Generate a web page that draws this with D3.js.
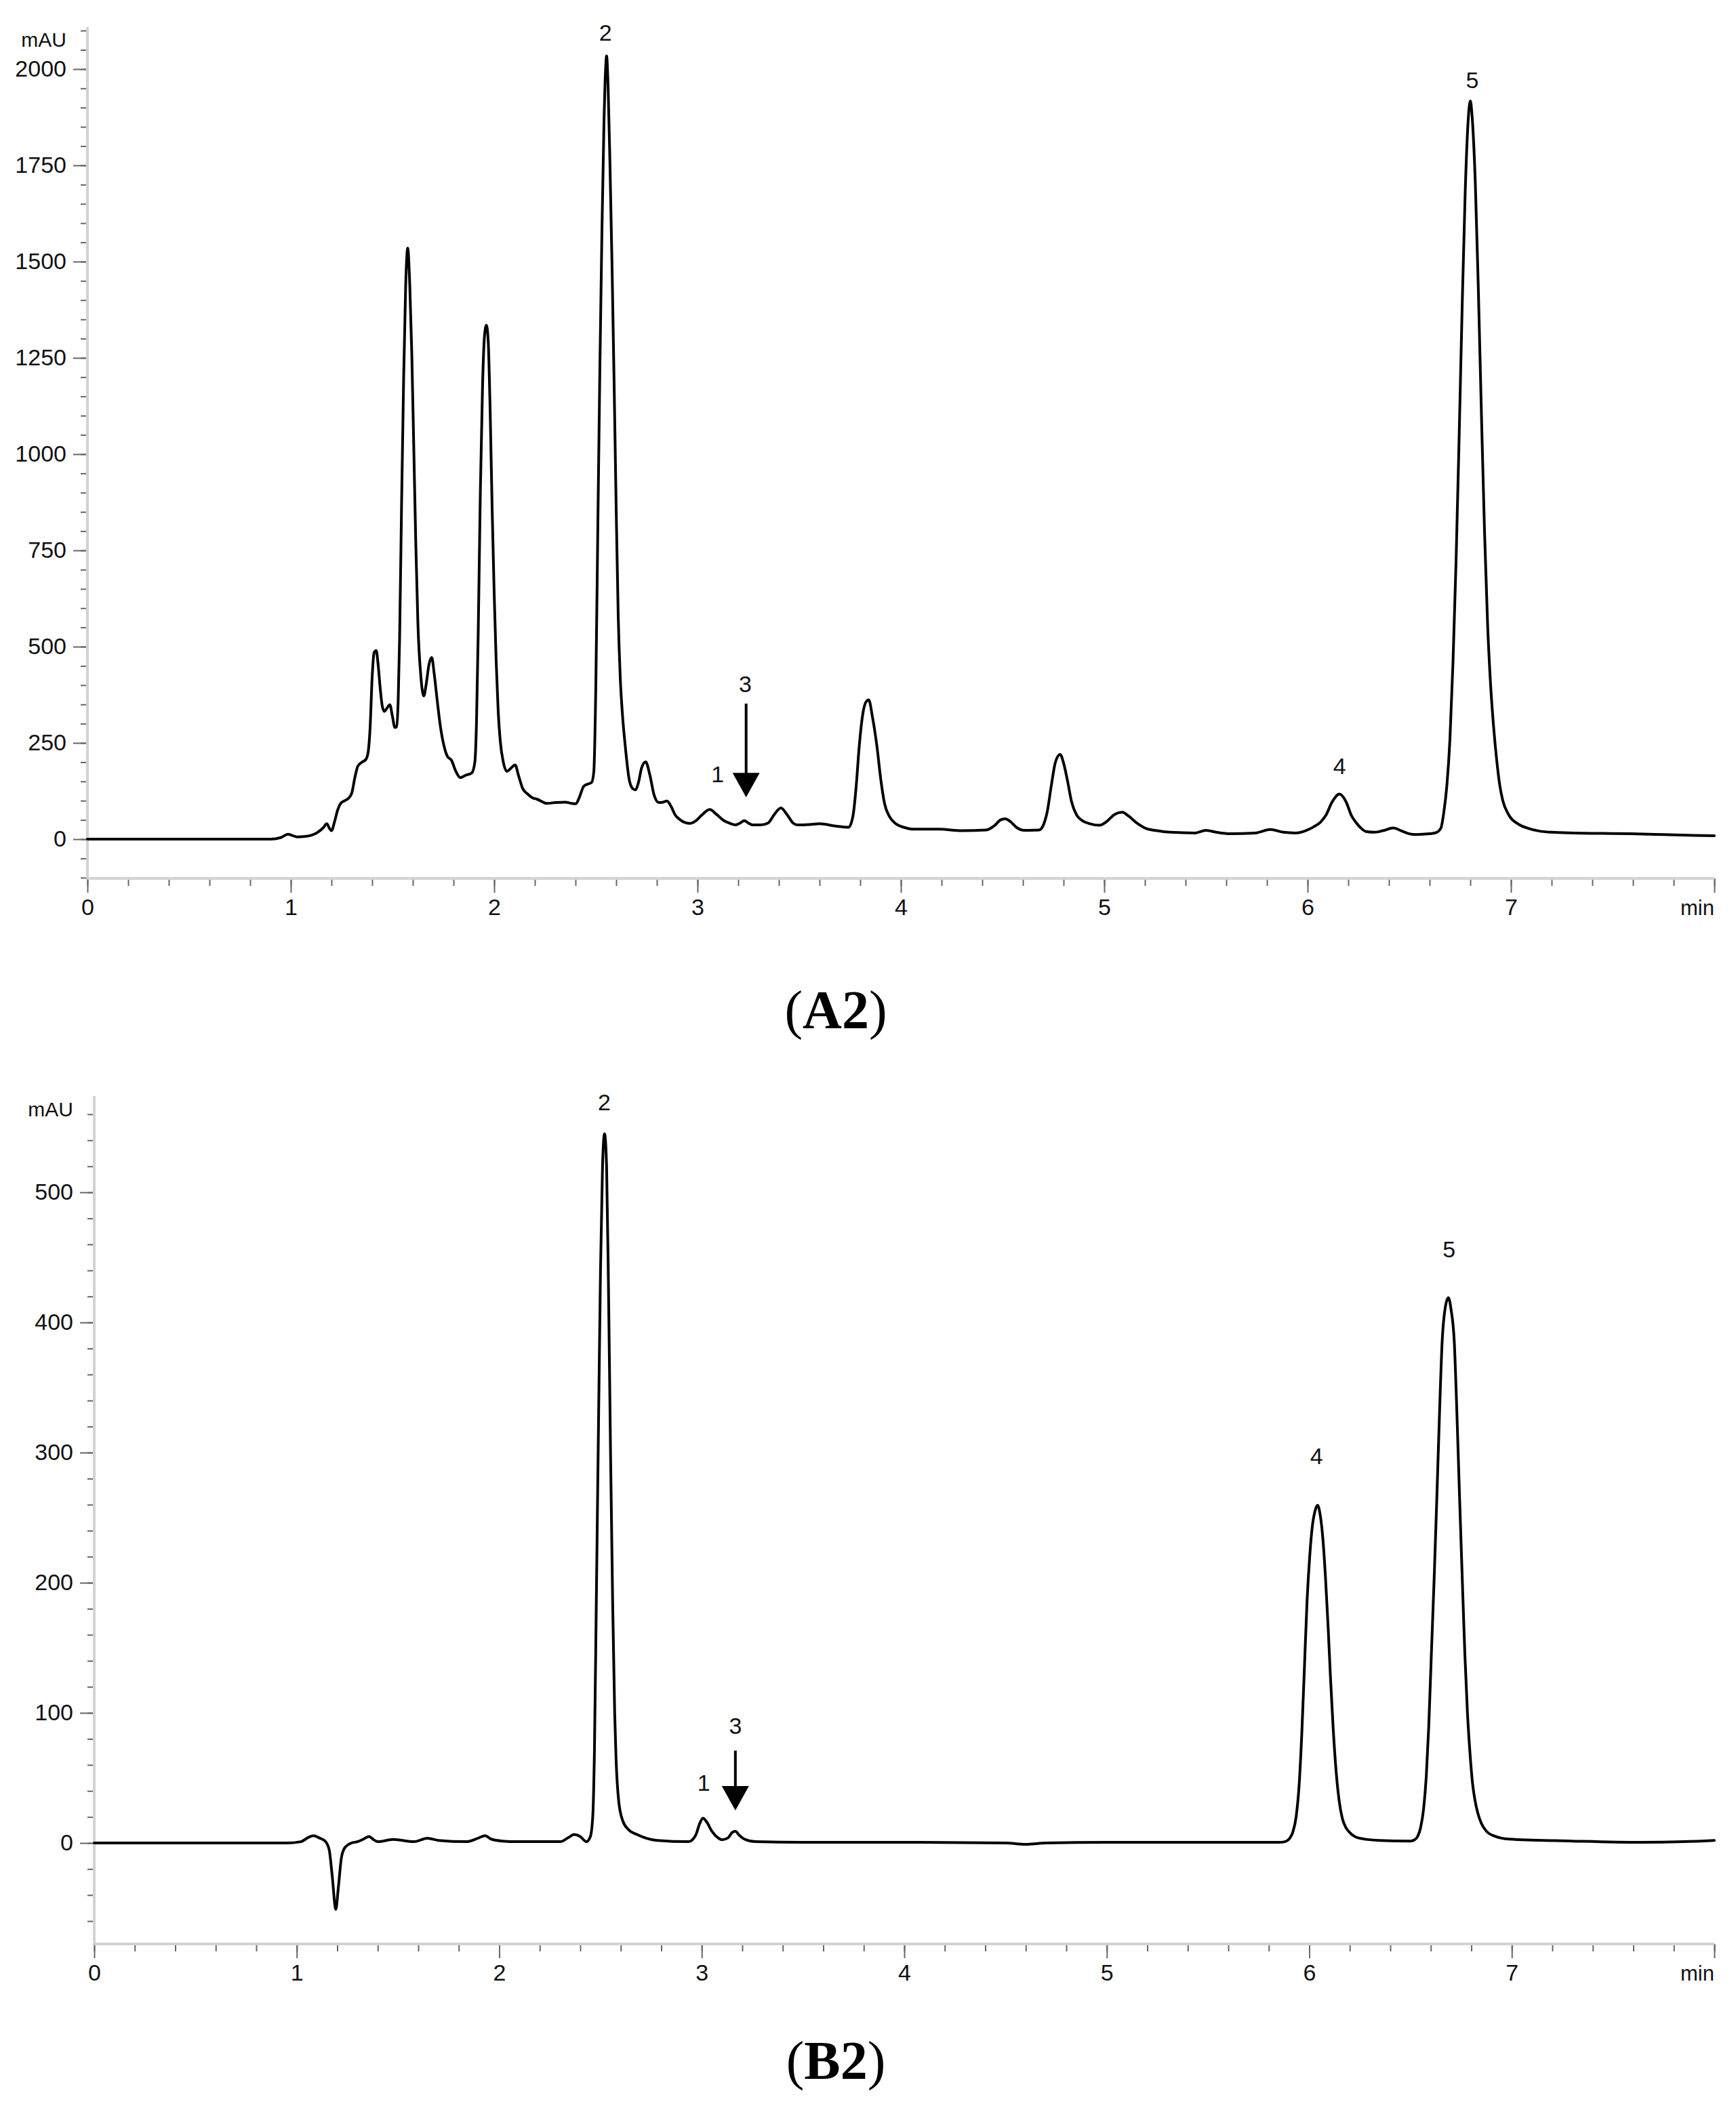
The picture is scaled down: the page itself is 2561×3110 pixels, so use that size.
<!DOCTYPE html>
<html><head><meta charset="utf-8">
<script src="https://cdn.jsdelivr.net/npm/d3@7"></script>
<style>body{margin:0;background:#fff} svg{display:block}</style>
</head><body>
<svg id="chart" width="2561" height="3110"></svg>
<script>
// ---------------- DATA ----------------
const xTicks = [0, 1, 2, 3, 4, 5, 6, 7];
const aYTicks = [0, 250, 500, 750, 1000, 1250, 1500, 1750, 2000];
const bYTicks = [0, 100, 200, 300, 400, 500];
const xUnit = "min";
const yUnit = "mAU";

// Panel A2 trace: [time (min), signal (mAU)]
const traceA = [
[0,0],[0.5,0],[0.9,0],[0.95,4],[0.987,13],[1.0,11],[1.03,6],[1.07,7],[1.10,10],[1.13,17],[1.16,30],[1.177,40],[1.19,28],[1.2,22],
[1.215,45],[1.23,75],[1.244,92],[1.265,100],[1.283,106],[1.30,120],[1.315,160],[1.33,190],[1.35,200],[1.369,207],[1.38,225],[1.39,290],
[1.40,420],[1.41,485],[1.42,490],[1.43,450],[1.44,390],[1.45,345],[1.46,332],[1.47,338],[1.487,349],[1.50,318],[1.512,290],[1.52,292],
[1.528,360],[1.535,520],[1.545,880],[1.555,1200],[1.565,1440],[1.575,1535],[1.585,1440],[1.595,1260],[1.605,1010],[1.615,760],[1.625,560],
[1.64,420],[1.654,372],[1.665,400],[1.68,455],[1.693,472],[1.705,430],[1.72,360],[1.735,295],[1.753,243],[1.77,215],[1.79,205],[1.81,178],
[1.833,160],[1.86,166],[1.89,172],[1.905,200],[1.913,300],[1.922,550],[1.932,900],[1.943,1180],[1.953,1310],[1.962,1335],[1.971,1290],
[1.98,1120],[1.99,860],[2.0,640],[2.01,460],[2.02,330],[2.03,255],[2.045,200],[2.063,176],[2.08,183],[2.103,193],[2.12,165],[2.14,132],
[2.163,118],[2.19,107],[2.21,104],[2.258,93],[2.30,95],[2.35,96],[2.38,93],[2.402,92],[2.42,110],[2.44,137],[2.46,143],[2.479,147],
[2.49,175],[2.50,400],[2.51,820],[2.52,1230],[2.53,1580],[2.54,1860],[2.548,2000],[2.553,2034],[2.56,1960],[2.57,1740],[2.58,1480],
[2.59,1180],[2.60,860],[2.61,580],[2.62,420],[2.63,330],[2.645,240],[2.663,158],[2.68,132],[2.693,128],[2.71,148],[2.725,185],[2.745,201],
[2.765,168],[2.787,114],[2.81,95],[2.83,96],[2.85,99],[2.87,85],[2.89,63],[2.913,51],[2.94,43],[2.963,41],[2.99,47],[3.02,62],[3.06,77],
[3.09,66],[3.13,48],[3.16,41],[3.187,37],[3.21,42],[3.23,48],[3.25,42],[3.27,37],[3.31,37],[3.347,42],[3.38,66],[3.41,81],[3.44,64],
[3.47,42],[3.49,37],[3.55,38],[3.60,40],[3.68,34],[3.743,31],[3.765,62],[3.78,136],[3.795,240],[3.813,326],[3.828,356],[3.842,362],
[3.86,318],[3.883,238],[3.90,160],[3.92,92],[3.945,58],[3.973,41],[4.02,30],[4.06,26],[4.19,26],[4.30,22],[4.42,24],[4.46,35],[4.49,50],
[4.513,53],[4.54,45],[4.57,30],[4.607,23],[4.68,24],[4.70,36],[4.72,72],[4.74,140],[4.76,200],[4.783,220],[4.80,198],[4.82,150],[4.84,96],
[4.865,62],[4.89,49],[4.93,40],[4.977,36],[5.01,45],[5.05,64],[5.088,70],[5.12,60],[5.16,42],[5.20,29],[5.26,22],[5.323,18],[5.447,16],
[5.50,23],[5.55,18],[5.62,14],[5.743,16],[5.817,25],[5.88,18],[5.94,16],[5.99,22],[6.03,32],[6.063,44],[6.09,62],[6.12,96],[6.157,117],
[6.19,96],[6.215,62],[6.237,44],[6.26,30],[6.287,20],[6.33,18],[6.37,22],[6.422,29],[6.46,22],[6.50,14],[6.533,12],[6.60,14],[6.632,17],
[6.655,28],[6.67,70],[6.685,140],[6.70,260],[6.715,460],[6.73,720],[6.745,1040],[6.76,1380],[6.775,1680],[6.79,1870],[6.80,1917],
[6.81,1870],[6.825,1700],[6.84,1420],[6.855,1100],[6.87,800],[6.885,560],[6.90,400],[6.915,290],[6.93,205],[6.945,140],[6.96,100],
[6.985,67],[7.04,38],[7.08,29],[7.14,21],[7.20,18],[7.31,16],[7.45,15],[7.59,14],[7.75,12],[7.9,10],[8.0,9]
];

// Panel B2 trace: [time (min), signal (mAU)]
const traceB = [
[0,0],[0.5,0],[0.95,0],[1.02,1],[1.06,4.5],[1.083,5.6],[1.11,4],[1.14,1.5],[1.16,-5],[1.175,-25],[1.193,-51],[1.205,-35],[1.22,-12],
[1.236,-4],[1.27,0],[1.30,1],[1.33,3],[1.356,5],[1.38,2.5],[1.40,1],[1.476,2.7],[1.58,1],[1.645,3.7],[1.70,2],[1.837,1],[1.90,4],[1.93,5.6],
[1.96,3],[2.015,1.5],[2.10,1],[2.30,1],[2.34,4],[2.37,6.5],[2.40,5],[2.43,1],[2.45,5],[2.462,21],[2.47,70],[2.48,194],[2.49,320],[2.50,440],
[2.51,520],[2.52,545],[2.53,520],[2.54,420],[2.55,295],[2.56,185],[2.57,100],[2.577,64],[2.59,32],[2.61,17],[2.64,10],[2.68,6.5],[2.73,3.5],
[2.78,2],[2.935,1],[2.97,6],[2.99,15],[3.006,19],[3.025,16],[3.05,9],[3.08,4],[3.10,2.5],[3.13,4],[3.15,8],[3.166,9],[3.185,6],[3.21,3],
[3.267,1],[3.5,0.5],[4.0,0.5],[4.5,0],[4.6,-1],[4.7,0],[5.0,0.5],[5.5,0.5],[5.85,0.5],[5.88,1],[5.90,3],[5.918,8],[5.935,20],[5.95,45],
[5.963,84],[5.976,135],[5.989,186],[6.002,220],[6.014,242],[6.028,255],[6.041,259.5],[6.054,252],[6.067,234],[6.08,204],[6.093,166],
[6.105,126],[6.118,88],[6.132,56],[6.147,33],[6.163,19],[6.18,12],[6.2,8],[6.24,4],[6.344,2],[6.50,1.5],[6.52,2.5],[6.535,5],[6.55,12],
[6.565,27],[6.578,52],[6.59,90],[6.603,146],[6.617,205],[6.63,266],[6.643,330],[6.656,385],[6.672,412],[6.687,419],[6.70,410],[6.716,385],
[6.729,330],[6.742,266],[6.755,205],[6.768,146],[6.781,100],[6.794,68],[6.806,46],[6.818,33],[6.832,23],[6.85,15],[6.875,9],[6.92,5],
[6.985,3],[7.296,1.5],[7.64,0.5],[7.85,1],[8.0,2]
];

// Peak labels (data coordinates of label baseline)
const labelsA = [
  {text: "2", t: 2.547, v: 2074},
  {text: "1", t: 3.099, v: 148},
  {text: "3", t: 3.235, v: 382},
  {text: "4", t: 6.157, v: 169},
  {text: "5", t: 6.81,  v: 1951}
];
const labelsB = [
  {text: "2", t: 2.519, v: 563},
  {text: "1", t: 3.010, v: 40},
  {text: "3", t: 3.166, v: 84},
  {text: "4", t: 6.036, v: 291},
  {text: "5", t: 6.690, v: 450}
];
// Arrows pointing at peak 3 (time, start value, tip value)
const arrowA = {t: 3.239, from: 352, to: 109};
const arrowB = {t: 3.166, from: 71, to: 25};

const captionA = {prefix: "(", bold: "A2", suffix: ")"};
const captionB = {prefix: "(", bold: "B2", suffix: ")"};

// ---------------- LAYOUT ----------------
const svg = d3.select("#chart");
const sans = "'Liberation Sans', Arial, Helvetica, sans-serif";
const serif = "'Liberation Serif', 'Times New Roman', Times, serif";

function drawPanel(cfg) {
  const g = svg.append("g");
  const x = d3.scaleLinear().domain([0, 8]).range(cfg.xRange);
  const y = d3.scaleLinear().domain(cfg.yDomain).range(cfg.yRange);
  const x0 = cfg.xRange[0], yBottom = cfg.yRange[0];

  const gyMinor = g.append("g").attr("transform", `translate(${x0},0)`)
    .call(d3.axisLeft(y).tickValues(cfg.yMinor).tickSize(10).tickSizeOuter(0).tickFormat(""));
  const gyMajor = g.append("g").attr("transform", `translate(${x0},0)`)
    .call(d3.axisLeft(y).tickValues(cfg.yTicks).tickSize(21).tickSizeOuter(0).tickPadding(10).tickFormat(d3.format("d")));
  const xMinor = d3.range(0, 41).map(i => i / 5);
  const gxMinor = g.append("g").attr("transform", `translate(0,${yBottom})`)
    .call(d3.axisBottom(x).tickValues(xMinor).tickSize(11).tickSizeOuter(0).tickFormat(""));
  const gxMajor = g.append("g").attr("transform", `translate(0,${yBottom})`)
    .call(d3.axisBottom(x).tickValues(xTicks.concat([8])).tickSize(21).tickSizeOuter(0).tickPadding(9)
      .tickFormat(d => d === 8 ? "" : d3.format("d")(d)));

  [gyMinor, gyMajor, gxMinor, gxMajor].forEach(a => {
    a.select(".domain").remove();
    a.selectAll(".tick line").attr("stroke", "#666").attr("stroke-width", 2);
    a.selectAll(".tick text").attr("fill", "#111").style("font-family", sans).style("font-size", "34px");
  });

  g.append("line").attr("x1", x0).attr("x2", x0).attr("y1", cfg.yRange[1]).attr("y2", yBottom)
    .attr("stroke", "#d2d2d2").attr("stroke-width", 4);
  g.append("line").attr("x1", x0).attr("x2", cfg.xRange[1]).attr("y1", yBottom).attr("y2", yBottom)
    .attr("stroke", "#d2d2d2").attr("stroke-width", 4);

  g.append("text").attr("x", x0 - 31).attr("y", cfg.unitY).attr("text-anchor", "end")
    .style("font-family", sans).style("font-size", "30px").attr("fill", "#111").text(yUnit);
  g.append("text").attr("x", cfg.xRange[1]).attr("y", yBottom + 54).attr("text-anchor", "end")
    .style("font-family", sans).style("font-size", "31px").attr("fill", "#111").text(xUnit);

  const line = d3.line().x(d => x(d[0])).y(d => y(d[1])).curve(d3.curveMonotoneX);
  g.append("path").datum(cfg.trace).attr("d", line)
    .attr("fill", "none").attr("stroke", "#000").attr("stroke-width", 4)
    .attr("stroke-linejoin", "round").attr("stroke-linecap", "round");

  g.selectAll("text.peak").data(cfg.labels).enter().append("text").attr("class", "peak")
    .attr("x", d => x(d.t)).attr("y", d => y(d.v)).attr("text-anchor", "middle")
    .style("font-family", sans).style("font-size", "34px").attr("fill", "#111").text(d => d.text);

  const ax = x(cfg.arrow.t), ay1 = y(cfg.arrow.from), ay2 = y(cfg.arrow.to);
  const headLen = 36, headHalf = 20;
  g.append("line").attr("x1", ax).attr("x2", ax).attr("y1", ay1).attr("y2", ay2 - headLen + 4)
    .attr("stroke", "#000").attr("stroke-width", 4);
  g.append("path")
    .attr("d", `M${ax - headHalf},${ay2 - headLen} L${ax + headHalf},${ay2 - headLen} L${ax},${ay2} Z`)
    .attr("fill", "#000");

  const cap = svg.append("text").attr("x", 1233).attr("y", cfg.captionY).attr("text-anchor", "middle")
    .style("font-family", serif).style("font-size", "80px").attr("fill", "#000");
  cap.append("tspan").text(cfg.caption.prefix);
  cap.append("tspan").style("font-weight", "bold").text(cfg.caption.bold);
  cap.append("tspan").text(cfg.caption.suffix);
}

drawPanel({
  trace: traceA, labels: labelsA, arrow: arrowA, caption: captionA,
  xRange: [129, 2529], yDomain: [-102, 2109], yRange: [1296, 40],
  yTicks: aYTicks, yMinor: d3.range(-100, 2101, 50),
  unitY: 69, captionY: 1517
});
drawPanel({
  trace: traceB, labels: labelsB, arrow: arrowB, caption: captionB,
  xRange: [139, 2529], yDomain: [-77.6, 574], yRange: [2868, 1617],
  yTicks: bYTicks, yMinor: d3.range(-60, 561, 20),
  unitY: 1647, captionY: 3067
});
</script>
</body></html>
